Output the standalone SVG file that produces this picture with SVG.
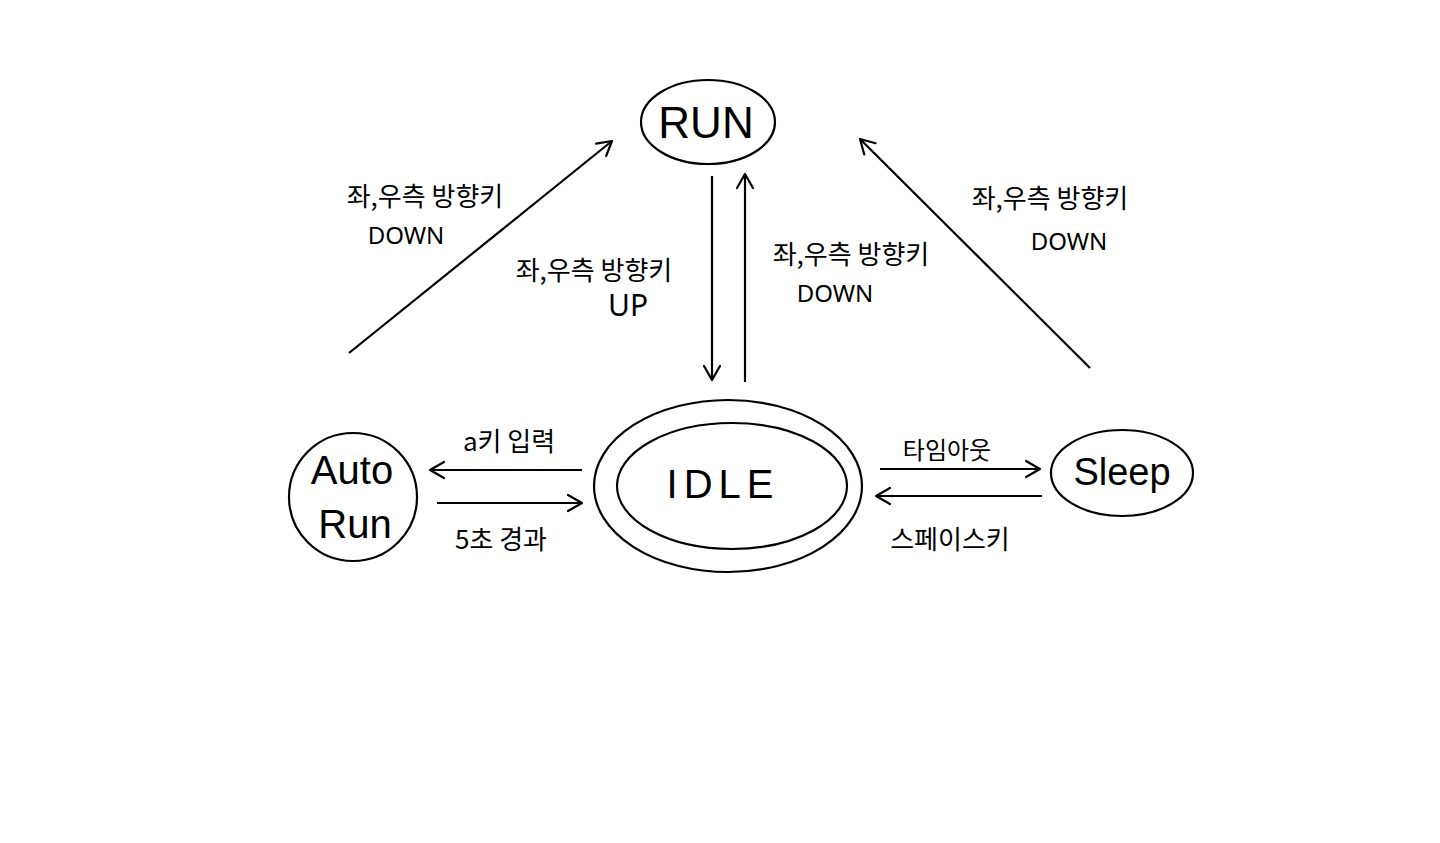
<svg xmlns="http://www.w3.org/2000/svg" width="1440" height="843" viewBox="0 0 1440 843">
<style>
.node{fill:none;stroke:#000;stroke-width:2.2}
.edge{fill:none;stroke:#000;stroke-width:2.2}
.lbl{font-family:"Noto Sans CJK KR","Noto Sans",sans-serif;font-size:26px;fill:#000;text-anchor:middle;dominant-baseline:central}
.lat{font-family:"Noto Sans","Noto Sans CJK KR",sans-serif;font-size:24px;fill:#000;text-anchor:middle;dominant-baseline:central}
.big{font-family:"Liberation Sans","Noto Sans",sans-serif;font-weight:normal;fill:#000;text-anchor:middle;dominant-baseline:central}
</style>
<defs>
<marker id="arr" viewBox="0 0 20 20" refX="18" refY="10" markerWidth="20" markerHeight="20" markerUnits="userSpaceOnUse" orient="auto">
<path d="M4,2 L18,10 L4,18" fill="none" stroke="#000" stroke-width="2.2" stroke-linecap="round" stroke-linejoin="round"/>
</marker>
</defs>
<rect width="1440" height="843" fill="#fff"/>
<g id="RUN">
<ellipse class="node" cx="708" cy="122" rx="67" ry="42"/>
<text class="big" x="706" y="122" font-size="44">RUN</text>
</g>
<g id="IDLE">
<ellipse class="node" cx="728" cy="486" rx="134" ry="86"/>
<ellipse class="node" cx="732" cy="486" rx="115" ry="63"/>
<text class="big" x="723" y="484" font-size="40" letter-spacing="6">IDLE</text>
</g>
<g id="AutoRun">
<circle class="node" cx="353" cy="497" r="64"/>
<text class="big" x="352" y="470" font-size="40">Auto</text>
<text class="big" x="355" y="524" font-size="40">Run</text>
</g>
<g id="Sleep">
<ellipse class="node" cx="1122" cy="473" rx="71" ry="43"/>
<text class="big" x="1122" y="472" font-size="38">Sleep</text>
</g>
<g id="connectors">
<line class="edge" x1="349" y1="353" x2="612" y2="141" marker-end="url(#arr)"/>
<line class="edge" x1="712" y1="176" x2="712" y2="380" marker-end="url(#arr)"/>
<line class="edge" x1="745" y1="382" x2="745" y2="174" marker-end="url(#arr)"/>
<line class="edge" x1="1090" y1="368" x2="860" y2="139" marker-end="url(#arr)"/>
<line class="edge" x1="582" y1="470" x2="430" y2="470" marker-end="url(#arr)"/>
<line class="edge" x1="437" y1="503" x2="582" y2="503" marker-end="url(#arr)"/>
<line class="edge" x1="880" y1="469" x2="1040" y2="469" marker-end="url(#arr)"/>
<line class="edge" x1="1042" y1="496" x2="876" y2="496" marker-end="url(#arr)"/>
</g>
<g id="labels">
<text class="lbl" x="425" y="194">좌,우측 방향키</text>
<text class="lat" x="406" y="234">DOWN</text>
<text class="lbl" x="594" y="268">좌,우측 방향키</text>
<text class="lat" x="628" y="304" style="font-size:30px">UP</text>
<text class="lbl" x="851" y="252">좌,우측 방향키</text>
<text class="lat" x="835" y="292">DOWN</text>
<text class="lbl" x="1050" y="196">좌,우측 방향키</text>
<text class="lat" x="1069" y="240">DOWN</text>
<text class="lbl" x="509" y="439">a키 입력</text>
<text class="lbl" x="501" y="537">5초 경과</text>
<text class="lbl" x="947" y="448" style="font-size:24px">타임아웃</text>
<text class="lbl" x="950" y="537">스페이스키</text>
</g>
</svg>
